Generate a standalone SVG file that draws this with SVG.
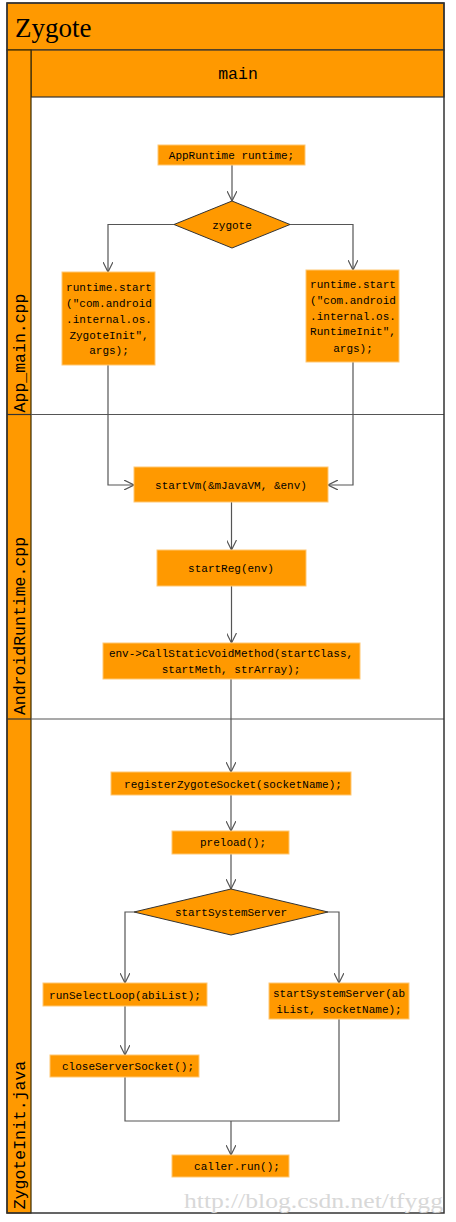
<svg xmlns="http://www.w3.org/2000/svg" width="456" height="1222" viewBox="0 0 456 1222">
<defs>
<style>
.node{fill:#FF9900;stroke:#FFC773;stroke-width:1}
.t{font-family:"Liberation Mono",monospace;font-size:11px;fill:#000;text-anchor:middle}
.lane{font-family:"Liberation Mono",monospace;font-size:16.5px;fill:#000;text-anchor:middle}
.band{fill:#FF9900;stroke:#333;stroke-width:1.2}
.sep{stroke:#555;stroke-width:1.2;fill:none}
.conn{stroke:#555;stroke-width:1.2;fill:none;marker-end:url(#arr)}
.line{stroke:#555;stroke-width:1.2;fill:none}
</style>
<marker id="arr" viewBox="0 0 10 10" refX="10" refY="5" markerWidth="10" markerHeight="10" markerUnits="userSpaceOnUse" orient="auto">
<path d="M0,0 L10,5 L0,10" fill="none" stroke="#555" stroke-width="1.2"/>
</marker>
</defs>
<rect x="0" y="0" width="456" height="1222" fill="#fff"/>
<g id="frame">
<rect x="31" y="97" width="413" height="1116" fill="#fff" stroke="none"/>
<rect x="7" y="3" width="437" height="47" class="band"/>
<text x="15" y="37" font-family="'Liberation Serif',serif" font-size="27" fill="#000">Zygote</text>
<rect x="31" y="50" width="413" height="47" class="band"/>
<text x="238" y="79" class="lane">main</text>
<rect x="7" y="50" width="24" height="1163" fill="#FF9900" stroke="#3a2a00" stroke-width="1.2"/>
<line x1="31" y1="414.5" x2="444" y2="414.5" class="sep"/>
<line x1="31" y1="719" x2="444" y2="719" class="sep"/>
<rect x="7" y="3" width="437" height="1210" fill="none" stroke="#333" stroke-width="1.5"/>
<line x1="7" y1="414.5" x2="31" y2="414.5" stroke="#333" stroke-width="1.2"/>
<line x1="7" y1="719" x2="31" y2="719" stroke="#333" stroke-width="1.2"/>
</g>
<g id="lane-labels">
<text class="lane" transform="translate(25,353) rotate(-90)">App_main.cpp</text>
<text class="lane" transform="translate(25,626) rotate(-90)">AndroidRuntime.cpp</text>
<text class="lane" transform="translate(25,1135) rotate(-90)">ZygoteInit.java</text>
</g>
<g id="connectors">
<path d="M232,165 V201" class="conn"/>
<path d="M174,224.5 H108 V272" class="conn"/>
<path d="M290,224.5 H353 V270" class="conn"/>
<path d="M108,365 V485 H134" class="conn"/>
<path d="M353,362 V485 H328" class="conn"/>
<path d="M231.5,502 V550" class="conn"/>
<path d="M231.5,586 V643" class="conn"/>
<path d="M231,679 V772" class="conn"/>
<path d="M231,795 V831" class="conn"/>
<path d="M231,854 V889" class="conn"/>
<path d="M134,912 H125 V983" class="conn"/>
<path d="M328,912 H339 V983" class="conn"/>
<path d="M125,1006 V1055" class="conn"/>
<path d="M125,1077 V1121 H339 V1019" class="line"/>
<path d="M231,1121 V1155" class="conn"/>
</g>
<g id="n-appruntime">
<rect x="158" y="145" width="147" height="20" class="node"/>
<text x="231.5" y="159" class="t">AppRuntime runtime;</text>
</g>
<g id="n-zygote">
<polygon points="232,201 290,224.5 232,248 174,224.5" fill="#FF9900" stroke="#333" stroke-width="1"/>
<text x="232" y="229" class="t">zygote</text>
</g>
<g id="n-start-zygote">
<rect x="62" y="272" width="93" height="93" class="node"/>
<text class="t"><tspan x="109" y="291">runtime.start</tspan><tspan x="109" y="307">("com.android</tspan><tspan x="109" y="323">.internal.os.</tspan><tspan x="109" y="339">ZygoteInit",</tspan><tspan x="109" y="354">args);</tspan></text>
</g>
<g id="n-start-runtime">
<rect x="306" y="270" width="93" height="92" class="node"/>
<text class="t"><tspan x="353" y="288">runtime.start</tspan><tspan x="353" y="304">("com.android</tspan><tspan x="353" y="320">.internal.os.</tspan><tspan x="353" y="335">RuntimeInit",</tspan><tspan x="353" y="352">args);</tspan></text>
</g>
<g id="n-startvm">
<rect x="134" y="467" width="194" height="35" class="node"/>
<text x="231" y="489" class="t">startVm(&amp;mJavaVM, &amp;env)</text>
</g>
<g id="n-startreg">
<rect x="157" y="550" width="149" height="36" class="node"/>
<text x="231" y="572" class="t">startReg(env)</text>
</g>
<g id="n-callstatic">
<rect x="103" y="643" width="257" height="36" class="node"/>
<text class="t"><tspan x="231" y="657">env-&gt;CallStaticVoidMethod(startClass,</tspan><tspan x="231" y="673">startMeth, strArray);</tspan></text>
</g>
<g id="n-register">
<rect x="111" y="772" width="240" height="23" class="node"/>
<text x="233" y="788" class="t">registerZygoteSocket(socketName);</text>
</g>
<g id="n-preload">
<rect x="172" y="831" width="117" height="23" class="node"/>
<text x="233" y="846" class="t">preload();</text>
</g>
<g id="n-startsystemserver-decision">
<polygon points="231,889 328,912 231,935 134,912" fill="#FF9900" stroke="#333" stroke-width="1"/>
<text x="231" y="916" class="t">startSystemServer</text>
</g>
<g id="n-runselectloop">
<rect x="43" y="983" width="164" height="23" class="node"/>
<text x="125" y="999" class="t">runSelectLoop(abiList);</text>
</g>
<g id="n-startsystemserver">
<rect x="269" y="983" width="140" height="36" class="node"/>
<text class="t"><tspan x="339" y="997">startSystemServer(ab</tspan><tspan x="339" y="1013">iList, socketName);</tspan></text>
</g>
<g id="n-closeserversocket">
<rect x="50" y="1055" width="149" height="22" class="node"/>
<text x="128" y="1070" class="t">closeServerSocket();</text>
</g>
<g id="n-callerrun">
<rect x="172" y="1155" width="117" height="22" class="node"/>
<text x="237" y="1170" class="t">caller.run();</text>
</g>
<g id="watermark">
<text x="184" y="1208" font-family="'Liberation Serif',serif" font-size="20" fill="#d8d8d8" textLength="259" lengthAdjust="spacingAndGlyphs">http://blog.csdn.net/tfygg</text>
</g>
</svg>
